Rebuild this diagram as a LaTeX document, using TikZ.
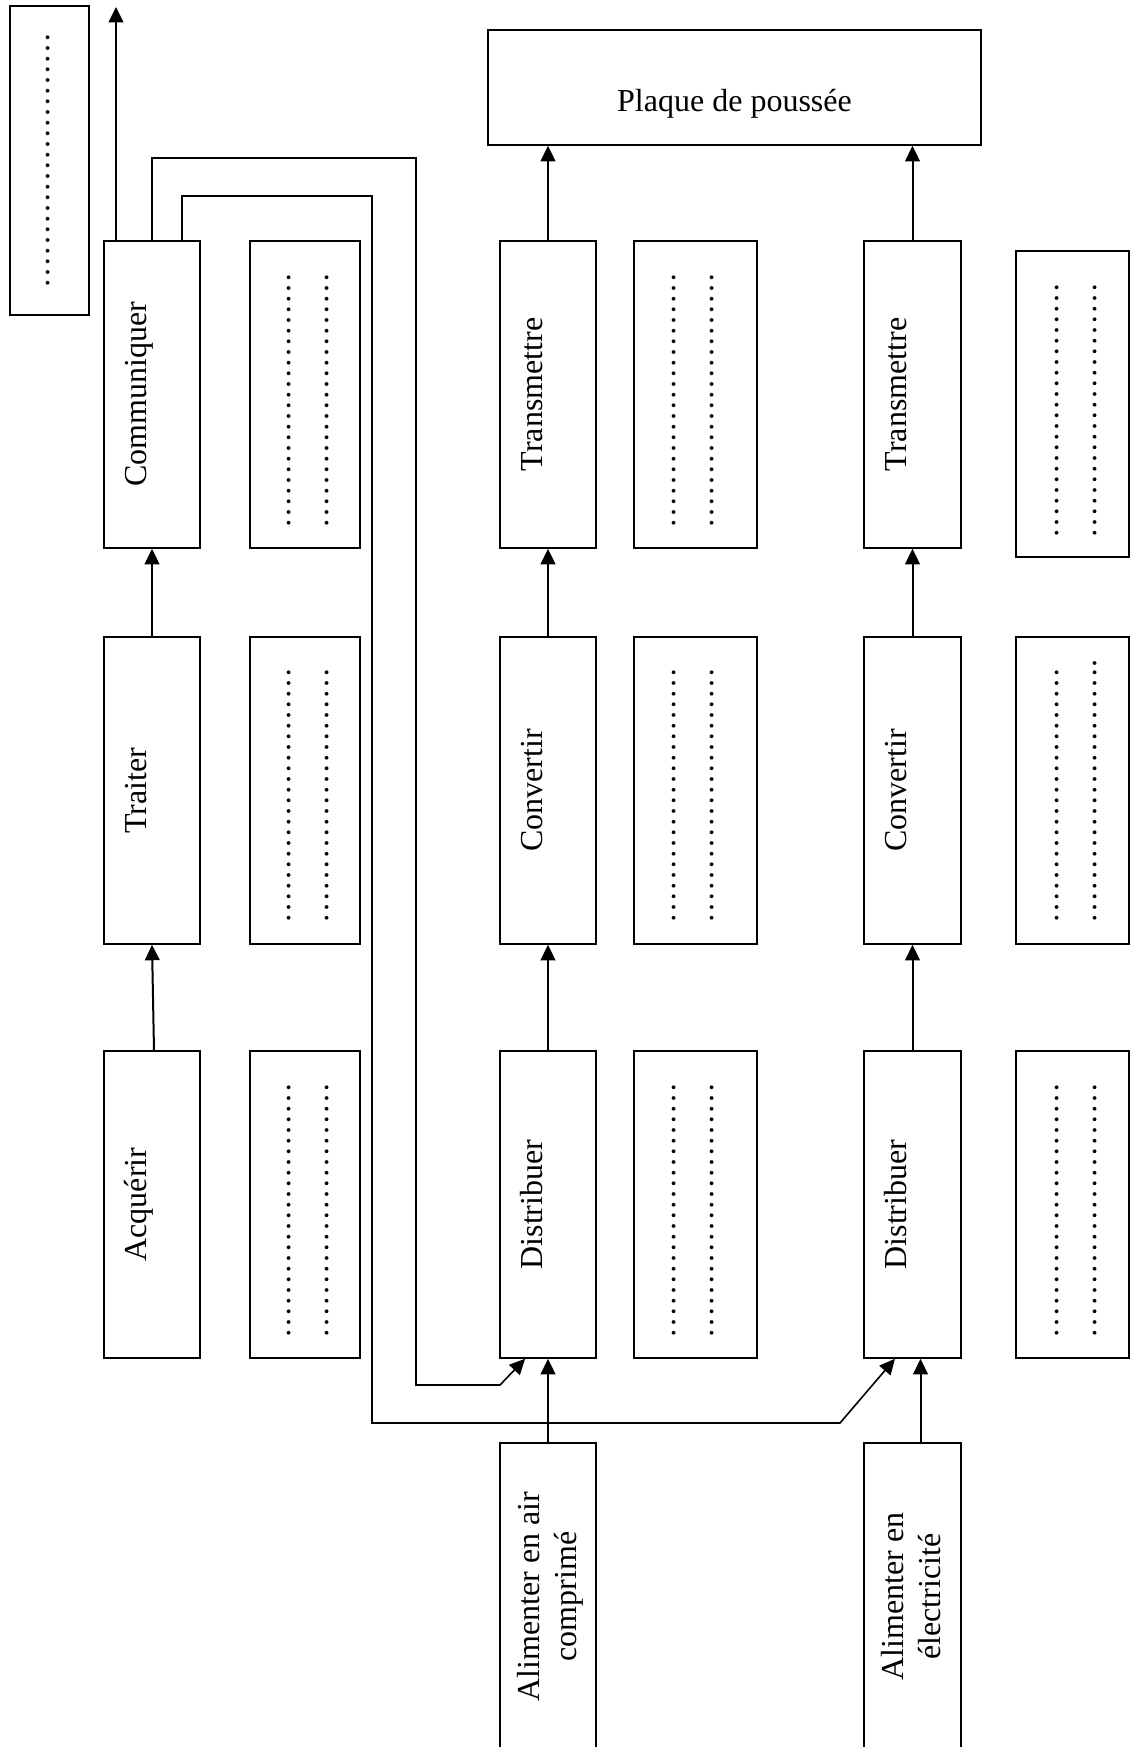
\documentclass[tikz,border=0pt]{standalone}
\usepackage{fontspec}
\setmainfont{Liberation Serif}
\usetikzlibrary{arrows.meta}
\newcommand\dotline{……………………}
\begin{document}
\begin{tikzpicture}[x=0.375pt,y=-0.375pt,
  bx/.style 2 args={draw, line width=0.6pt, inner sep=0pt, minimum width=#1*0.375pt, minimum height=#2*0.375pt},
  lbl/.style={rotate=90, anchor=base, inner sep=0pt, font=\fontsize{12}{13.8}\selectfont},
  lbltwo/.style={rotate=90, anchor=north, inner sep=0pt, align=center, font=\fontsize{12}{13.8}\selectfont},
  dts/.style={rotate=90, anchor=base, inner sep=0pt, font=\fontsize{12}{13.8}\selectfont},
  arr/.style={line width=0.75pt, -{Triangle[length=5.8pt,width=5.5pt]}},
  fb/.style={line width=0.6pt, -{Triangle[length=5.8pt,width=5.5pt]}}
]
\useasboundingbox (0,0) rectangle (1131,1747);
\fill[white] (0,0) rectangle (1131,1747);

% left top box
\node[bx={79}{309}] (lbox) at (49.5,160.5) {};
\node[dts] (ld) at (49.5,160.5) {\dotline};

% column A
\node[bx={96}{307}] (com) at (152,394.5) {};
\node[bx={96}{307}] (trait) at (152,790.5) {};
\node[bx={96}{307}] (acq) at (152,1204.5) {};
\node[lbl] (tcom) at (146,394.5) {Communiquer};
\node[lbl] (ttrait) at (146,790.5) {Traiter};
\node[lbl] (tacq) at (146,1204.5) {Acquérir};

% column A dots boxes
\node[bx={110}{307}] (ad1) at (305,394.5) {};
\node[bx={110}{307}] (ad2) at (305,790.5) {};
\node[bx={110}{307}] (ad3) at (305,1204.5) {};
\node[dts] (ad1a) at (290.5,400) {\dotline};
\node[dts] (ad1b) at (328.5,400) {\dotline};
\node[dts] (ad2a) at (290.5,795) {\dotline};
\node[dts] (ad2b) at (328.5,795) {\dotline};
\node[dts] (ad3a) at (290.5,1210) {\dotline};
\node[dts] (ad3b) at (328.5,1210) {\dotline};

% column B
\node[bx={96}{307}] (tB) at (548,394.5) {};
\node[bx={96}{307}] (cB) at (548,790.5) {};
\node[bx={96}{307}] (dB) at (548,1204.5) {};
\node[bx={96}{307}] (aB) at (548,1596.5) {};
\node[lbl] (ttB) at (542,394.5) {Transmettre};
\node[lbl] (tcB) at (542,790.5) {Convertir};
\node[lbl] (tdB) at (542,1204.5) {Distribuer};
\node[lbltwo] (taB) at (517,1596.5) {Alimenter en air\\comprimé};

% column B dots boxes
\node[bx={123}{307}] (bd1) at (695.5,394.5) {};
\node[bx={123}{307}] (bd2) at (695.5,790.5) {};
\node[bx={123}{307}] (bd3) at (695.5,1204.5) {};
\node[dts] (bd1a) at (675.5,400) {\dotline};
\node[dts] (bd1b) at (713.5,400) {\dotline};
\node[dts] (bd2a) at (675.5,795) {\dotline};
\node[dts] (bd2b) at (713.5,795) {\dotline};
\node[dts] (bd3a) at (675.5,1210) {\dotline};
\node[dts] (bd3b) at (713.5,1210) {\dotline};

% column C
\node[bx={97}{307}] (tC) at (912.5,394.5) {};
\node[bx={97}{307}] (cC) at (912.5,790.5) {};
\node[bx={97}{307}] (dC) at (912.5,1204.5) {};
\node[bx={97}{307}] (aC) at (912.5,1596.5) {};
\node[lbl] (ttC) at (906,394.5) {Transmettre};
\node[lbl] (tcC) at (906,790.5) {Convertir};
\node[lbl] (tdC) at (906,1204.5) {Distribuer};
\node[lbltwo] (taC) at (881,1596.5) {Alimenter en\\électricité};

% column C dots boxes
\node[bx={113}{306}] (cd1) at (1072.5,404) {};
\node[bx={113}{307}] (cd2) at (1072.5,790.5) {};
\node[bx={113}{307}] (cd3) at (1072.5,1204.5) {};
\node[dts] (cd1a) at (1058.5,410) {\dotline};
\node[dts] (cd1b) at (1096.5,410) {\dotline};
\node[dts] (cd2a) at (1058.5,795) {\dotline};
\node[dts] (cd2b) at (1096.5,791) {\dotline.};
\node[dts] (cd3a) at (1058.5,1210) {\dotline};
\node[dts] (cd3b) at (1096.5,1210) {\dotline};

% plaque
\node[bx={493}{115}] (pl) at (734.5,87.5) {};
\node[anchor=base, inner sep=0pt, font=\fontsize{12}{13.8}\selectfont] (tpl) at (734.5,111) {Plaque de poussée};

% arrows
\coordinate (out) at (116,7);
\draw[arr] ([xshift=-13.5pt]com.north) -- (out);
\draw[arr] ([xshift=0.75pt]acq.north) -- (trait.south);
\draw[arr] (trait.north) -- (com.south);
\draw[arr] (dB.north) -- (cB.south);
\draw[arr] (cB.north) -- (tB.south);
\draw[arr] (tB.north) -- (tB.north |- pl.south);
\draw[arr] (dC.north) -- (cC.south);
\draw[arr] (cC.north) -- (tC.south);
\draw[arr] (tC.north) -- (tC.north |- pl.south);
\draw[arr] (aB.north) -- (dB.south);
\draw[arr] ([xshift=3pt]aC.north) -- ([xshift=3pt]dC.south);

% feedback lines
\draw[fb] (com.north) -- (152,158) -- (416,158) -- (416,1385) -- (500,1385) -- ([xshift=-8.6pt]dB.south);
\draw[fb] ([xshift=11.25pt]com.north) -- (182,196) -- (372,196) -- (372,1423) -- (840,1423) -- ([xshift=-6.6pt]dC.south);
\end{tikzpicture}
\end{document}
